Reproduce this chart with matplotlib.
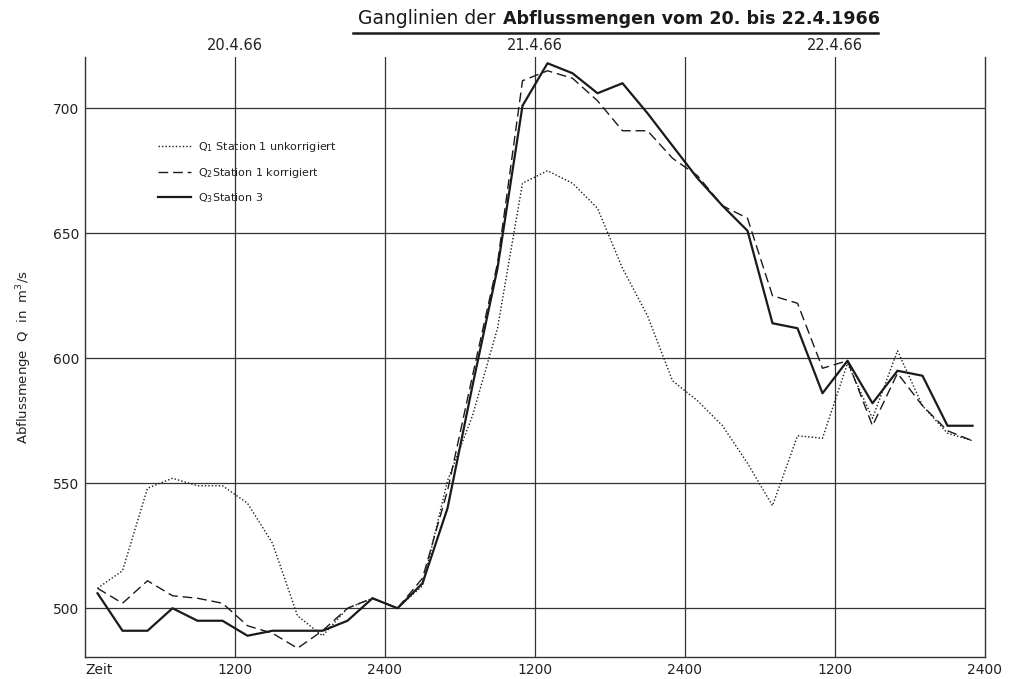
import matplotlib
matplotlib.use("Agg")
import matplotlib.pyplot as plt
from matplotlib.lines import Line2D
import numpy as np

# time in hours from 20.4.1966 00:00
hours = [1, 3, 5, 7, 9, 11, 13, 15, 17, 19, 21, 23, 25, 27, 29, 31, 33, 35,
         37, 39, 41, 43, 45, 47, 49, 51, 53, 55, 57, 59, 61, 63, 65, 67, 69, 71]

q1_unkorr = [508, 515, 548, 552, 549, 549, 542, 526, 497, 489, 500, 504,
             500, 509, 551, 577, 612, 670, 675, 670, 660, 636, 617, 591,
             583, 573, 558, 541, 569, 568, 598, 576, 603, 581, 570, 567]
q2_korr = [508, 502, 511, 505, 504, 502, 493, 490, 484, 491, 500, 504,
           500, 512, 547, 593, 638, 711, 715, 712, 703, 691, 691, 680,
           673, 661, 656, 625, 622, 596, 599, 573, 594, 581, 571, 567]
q3_station3 = [506, 491, 491, 500, 495, 495, 489, 491, 491, 491, 495, 504,
               500, 510, 540, 589, 636, 701, 718, 714, 706, 710, 698, 685,
               672, 661, 651, 614, 612, 586, 599, 582, 595, 593, 573, 573]

xtick_pos = [0, 12, 24, 36, 48, 60, 72]
xtick_labels = ["Zeit", "1200", "2400", "1200", "2400", "1200", "2400"]
ytick_pos = [500, 550, 600, 650, 700]
day_pos = [12, 36, 60]
day_labels = ["20.4.66", "21.4.66", "22.4.66"]
series_labels = ["Q$_1$ Station 1 unkorrigiert", "Q$_2$Station 1 korrigiert", "Q$_3$Station 3"]
title_plain = "Ganglinien der"
title_bold = "Abflussmengen vom 20. bis 22.4.1966"

W, H = 1013, 679
fig = plt.figure(figsize=(W / 100, H / 100), dpi=100)
ax = fig.add_axes([85 / W, 1 - 657 / H, 900 / W, 600 / H])
ax.set_xlim(0, 72)
ax.set_ylim(480.5, 720.5)

gc = "#333333"
for y in ytick_pos:
    ax.axhline(y, color=gc, lw=0.9, zorder=1)
for x in [12, 24, 36, 48, 60]:
    ax.axvline(x, color=gc, lw=0.9, zorder=1)

ink = "#1a1a1a"
ax.plot(hours, q1_unkorr, color=ink, lw=1.0, ls=(0, (1, 1.5)), label=series_labels[0], zorder=3)
ax.plot(hours, q2_korr, color=ink, lw=1.0, ls=(0, (7, 3.5)), label=series_labels[1], zorder=3)
ax.plot(hours, q3_station3, color=ink, lw=1.6, ls="-", label=series_labels[2], zorder=4)

ax.spines["top"].set_visible(False)
for s in ["left", "right", "bottom"]:
    ax.spines[s].set_color(gc)
    ax.spines[s].set_linewidth(1.0)

ax.set_xticks(xtick_pos)
ax.set_xticklabels(xtick_labels, fontsize=10)
ax.set_yticks(ytick_pos)
ax.set_yticklabels([str(v) for v in ytick_pos], fontsize=10)
ax.tick_params(length=0, pad=4, colors="#222222")
ax.get_xticklabels()[0].set_ha("left")

ax.set_ylabel("Abflussmenge  Q  in  m$^3$/s", fontsize=9.5, color="#222222", labelpad=14)

for p, lab in zip(day_pos, day_labels):
    ax.text(p, 1.0 + 12 / 600, lab, transform=ax.get_xaxis_transform(), ha="center",
            va="center", fontsize=10.5, color="#222222")

leg = ax.legend(loc="upper left", bbox_to_anchor=(63 / 900, 1 - 73 / 600), frameon=False,
                fontsize=8, handlelength=3.0, labelspacing=1.05, handletextpad=0.6)
for t in leg.get_texts():
    t.set_color("#222222")

fig.text(496 / W, 1 - 19 / H, title_plain, ha="right", va="center",
         fontsize=13.5, color="#1a1a1a")
fig.text(503 / W, 1 - 19 / H, title_bold, ha="left", va="center",
         fontsize=12.6, fontweight="bold", color="#1a1a1a")
fig.add_artist(Line2D([353 / W, 878 / W], [1 - 33 / H, 1 - 33 / H], color="#1a1a1a", lw=1.8))

fig.savefig("out.png", dpi=100)
